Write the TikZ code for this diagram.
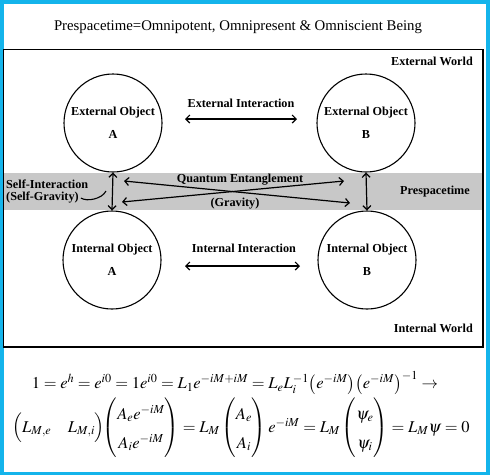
\documentclass[tikz,border=0pt]{standalone}
\usepackage{amsmath}
\usepackage{mathptmx}
\usepackage{fontspec}
\setmainfont{Liberation Serif}
\usetikzlibrary{arrows.meta}
\definecolor{frameblue}{RGB}{20,180,235}
\definecolor{bandgray}{RGB}{200,200,200}
\tikzset{
  obj/.style={draw, line width=1.1pt, circle, minimum size=98pt, inner sep=0pt, align=center,
              font=\fontsize{12.2}{14}\selectfont\bfseries},
  lbl/.style={font=\fontsize{12.2}{14}\selectfont\bfseries, inner sep=0pt, align=left},
  dbl/.style={line width=1.2pt, {Straight Barb[length=4pt,width=8pt]}-{Straight Barb[length=4pt,width=8pt]}},
}
\begin{document}
\begin{tikzpicture}[x=1pt,y=-1pt]
\useasboundingbox (0,0) rectangle (490,475);
\fill[white] (0,0) rectangle (490,475);
\draw[frameblue, line width=3.5pt] (1.75,1.75) rectangle (488,473.25);
% title
\node[font=\fontsize{14.8}{17}\selectfont, inner sep=0pt] (title) at (238,27) {Prespacetime=Omnipotent, Omnipresent \& Omniscient Being};
% band and world box
\fill[bandgray] (4,173) rectangle (482,210);
\draw[line width=1.4pt] (3.5,49.5) rectangle (483,347);
% objects
\node[obj] (EA) at (113,123) {External Object\\[9pt]A};
\node[obj] (EB) at (366,123) {External Object\\[9pt]B};
\node[obj] (IA) at (112,260) {Internal Object\\[9pt]A};
\node[obj] (IB) at (367,260) {Internal Object\\[9pt]B};
% labels
\node[lbl, anchor=north east] (extworld) at (473,57) {External World};
\node[lbl, anchor=south east] (intworld) at (473,333) {Internal World};
\node[lbl] (extint) at (241,103) {External Interaction};
\node[lbl] (intint) at (244,248) {Internal Interaction};
\node[lbl] (qe) at (240,180) {Quantum Entanglement};
\node[lbl] (grav) at (235,204) {(Gravity)};
\node[lbl] (pst) at (435,192) {Prespacetime};
\node[lbl, anchor=west] (selfint) at (6,184) {Self-Interaction};
\node[lbl, anchor=west] (selfgrav) at (6,198) {(Self-Gravity)};
% connector coordinates
\coordinate (ei1) at (185,119);
\coordinate (ei2) at (297,119);
\coordinate (ii1) at (185,266);
\coordinate (ii2) at (300,266);
\coordinate (qa1) at (124,181);
\coordinate (qa2) at (350,203);
\coordinate (qb1) at (122,202);
\coordinate (qb2) at (344,181);
\coordinate (sgc) at (106,191);
% arrows
\draw[dbl] (ei1) -- (ei2);
\draw[dbl] (ii1) -- (ii2);
\draw[dbl] (qa1) -- (qa2);
\draw[dbl] (qb1) -- (qb2);
\draw[dbl] (EA.south) -- (IA.north);
\draw[dbl] (EB.south) -- (IB.north);
\draw[line width=1.1pt] (selfgrav.east) ++(2,0) .. controls +(6,4) and +(-4,8) .. (sgc);
% equations
\node[font=\fontsize{16.5}{20}\selectfont, inner sep=0pt] (eq1) at (235,383)
  {$1 = e^{h} = e^{i0} = 1e^{i0} = L_1 e^{-iM+iM} = L_e L_i^{-1}\bigl(e^{-iM}\bigr)\bigl(e^{-iM}\bigr)^{-1} \rightarrow$};
\node[font=\fontsize{16.5}{20}\selectfont, inner sep=0pt] (eq2) at (241,428)
  {$\Bigl(L_{M,e}\quad L_{M,i}\Bigr)\!{\renewcommand{\arraystretch}{1.45}\begin{pmatrix}A_e e^{-iM}\\ A_i e^{-iM}\end{pmatrix} = L_M\begin{pmatrix}A_e\\ A_i\end{pmatrix} e^{-iM} = L_M\begin{pmatrix}\psi_e\\ \psi_i\end{pmatrix}} = L_M\psi = 0$};
\end{tikzpicture}
\end{document}
